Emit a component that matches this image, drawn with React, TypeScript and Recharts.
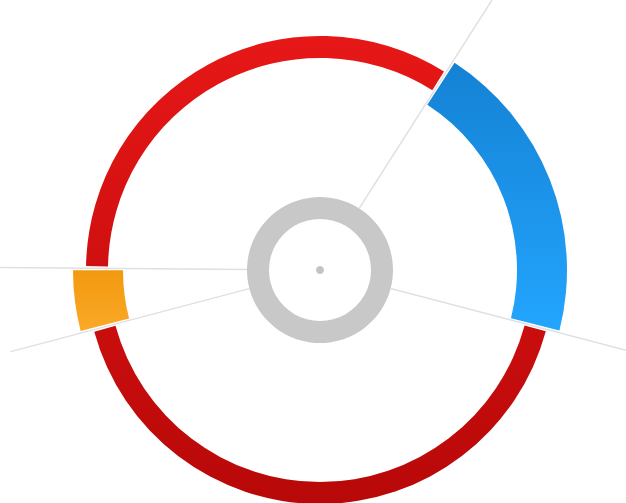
import React from "react";
import { PieChart, Pie, Cell } from "recharts";

// slices go clockwise starting from the upper-right blue block
const segments = ["Blue", "Red (lower)", "Orange", "Red (upper)"];
const shares = [20, 42, 4, 34];
const trackFill = ["none", "url(#redGrad)", "none", "url(#redGrad)"];
const blockFill = ["url(#blueGrad)", "none", "url(#orangeGrad)", "none"];

const hubValues = [1];

const data = segments.map((name, i) => ({ name, value: shares[i] }));
const hub = hubValues.map((value) => ({ name: "hub", value }));

const START = 57;
const PAD = 1;
const RAD = Math.PI / 180;

// a thin radial line in the middle of the gap just before each slice
const renderBoundary = (props: any) => {
  const { cx, cy, startAngle, paddingAngle, innerRadius, outerRadius, index } = props;
  const angle = startAngle - paddingAngle / 2;
  const cos = Math.cos(-angle * RAD);
  const sin = Math.sin(-angle * RAD);
  return (
    <line
      key={`boundary-${index}`}
      x1={cx + cos * innerRadius}
      y1={cy + sin * innerRadius}
      x2={cx + cos * outerRadius}
      y2={cy + sin * outerRadius}
      stroke="#e0e0e0"
      strokeWidth={1.5}
    />
  );
};

const App: React.FC = () => {
  return (
    <div style={{ position: "absolute", left: 0, top: 0 }}>
      <PieChart width={626} height={503} margin={{ top: 0, right: 0, bottom: 0, left: 0 }}>
        <defs>
          <linearGradient id="redGrad" x1="0" y1="36" x2="0" y2="504" gradientUnits="userSpaceOnUse">
            <stop offset="0%" stopColor="#e71717" />
            <stop offset="100%" stopColor="#b80808" />
          </linearGradient>
          <linearGradient id="blueGrad" x1="0" y1="0" x2="0" y2="1">
            <stop offset="0%" stopColor="#1482d4" />
            <stop offset="100%" stopColor="#23a5fe" />
          </linearGradient>
          <linearGradient id="orangeGrad" x1="0" y1="0" x2="0" y2="1">
            <stop offset="0%" stopColor="#f2990e" />
            <stop offset="100%" stopColor="#faa928" />
          </linearGradient>
        </defs>
        <Pie
          data={data}
          dataKey="value"
          cx={320}
          cy={270}
          innerRadius={73}
          outerRadius={320}
          startAngle={START}
          endAngle={START - 360}
          paddingAngle={PAD}
          fill="none"
          stroke="none"
          label={renderBoundary}
          labelLine={false}
          isAnimationActive={false}
        />
        <Pie
          data={data}
          dataKey="value"
          cx={320}
          cy={270}
          innerRadius={212}
          outerRadius={234}
          startAngle={START}
          endAngle={START - 360}
          paddingAngle={PAD}
          stroke="none"
          isAnimationActive={false}
        >
          {data.map((d, i) => (
            <Cell key={d.name} fill={trackFill[i]} />
          ))}
        </Pie>
        <Pie
          data={data}
          dataKey="value"
          cx={320}
          cy={270}
          innerRadius={197}
          outerRadius={247}
          startAngle={START}
          endAngle={START - 360}
          paddingAngle={PAD}
          stroke="none"
          isAnimationActive={false}
        >
          {data.map((d, i) => (
            <Cell key={d.name} fill={blockFill[i]} />
          ))}
        </Pie>
        <Pie
          data={hub}
          dataKey="value"
          cx={320}
          cy={270}
          innerRadius={51}
          outerRadius={73}
          fill="#c8c8c8"
          stroke="none"
          isAnimationActive={false}
        />
        <Pie
          data={hub}
          dataKey="value"
          cx={320}
          cy={270}
          innerRadius={0}
          outerRadius={4}
          fill="#c4c4c4"
          stroke="none"
          isAnimationActive={false}
        />
      </PieChart>
    </div>
  );
};

export default App;
